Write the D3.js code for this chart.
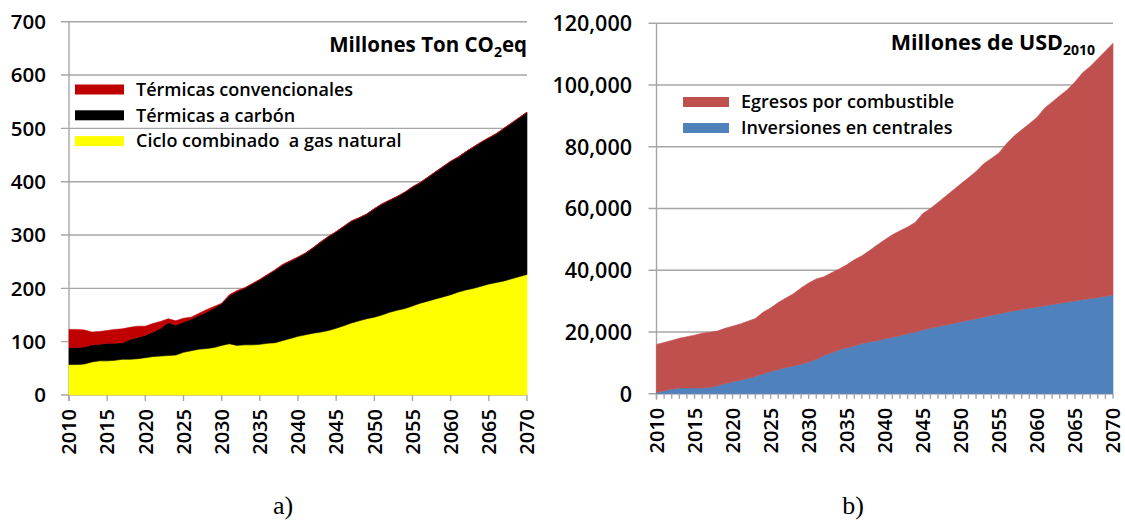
<!DOCTYPE html>
<html>
<head>
<meta charset="utf-8">
<script src="https://cdn.jsdelivr.net/npm/d3@7"></script>
<style>
  html, body { margin: 0; padding: 0; background: #fff; }
  svg { display: block; }
  text { font-family: "Open Sans", "Noto Sans", sans-serif; fill: #000; white-space: pre; }
</style>
</head>
<body>
<svg id="fig" width="1125" height="522"></svg>
<script>
// Years shown on both panels
const years = d3.range(2010, 2071);
const yearTicks = d3.range(2010, 2071, 5);

// Panel a) emissions by technology, million t CO2eq (stacked bottom to top)
const gasCC = [57,57,58,62,64,64,65,67,67,68,
  70,72,73,74,75,80,83,86,87,89,
  93,96,93,94,94,95,97,98,102,106,
  110,113,116,118,121,125,130,135,139,143,
  146,150,155,159,162,167,172,176,180,184,
  188,193,197,200,204,208,211,214,218,222,226];
const coal = [32,32,32,32,31,33,32,31,37,40,
  42,46,52,62,56,57,59,63,68,74,
  78,90,101,106,114,121,128,136,142,145,
  148,153,160,169,176,181,186,191,193,196,
  203,208,210,213,218,223,226,232,238,244,
  250,253,259,265,270,274,279,286,292,298,304];
const conventional = [34,34,32,24,24,24,26,26,23,21,
  17,16,13,7,8,7,4,4,5,3,
  1,2,2,1,1,1,1,1,1,1,
  1,0.5,0.5,0.5,0.5,0.5,0.5,0.5,0.5,0.5,
  0.5,0.5,0.5,0.5,0.5,0.5,0.5,0.5,0.5,0.5,
  0.5,0.5,0.5,0.5,0.5,0.5,0.5,0.5,0.5,0.5,0.5];
const emisTicks = [0,100,200,300,400,500,600,700];

// Panel b) costs, million USD2010 (stacked bottom to top)
const investment = [400,1000,1500,1900,1900,1900,1850,2100,2600,3300,
  3900,4400,5000,5600,6500,7200,7900,8500,9000,9600,
  10300,11200,12400,13300,14300,14900,15500,16300,16800,17200,
  17800,18300,18800,19500,20000,20700,21300,21800,22300,22800,
  23300,23800,24300,24900,25400,25900,26400,26900,27300,27700,
  28100,28500,28900,29300,29700,30100,30500,30900,31200,31600,32000];
const fuelSpend = [15600,15600,15800,16100,16600,17100,17750,17800,17700,17900,
  18000,18200,18500,18800,19900,20600,21700,22500,23400,24700,
  25600,26000,25500,25900,26100,26900,27900,28400,29600,31000,
  32100,33200,34000,34500,35500,37700,38700,40200,41700,43200,
  44700,46200,47700,49600,50800,52100,54600,56600,58200,59800,
  61400,64000,65600,67200,68800,70900,73500,75100,77300,79400,81500];
const costTicks = [0,20000,40000,60000,80000,100000,120000];

const svg = d3.select("#fig");
const gridColor = "#a6a6a6";
const labelWeight = 600;

function drawPanel(cfg) {
  const g = svg.append("g");
  const x = d3.scaleLinear().domain([2010, 2070]).range([cfg.x0, cfg.x1]);
  const y = d3.scaleLinear().domain([0, cfg.yMax]).range([cfg.yBottom, cfg.yTop]);

  // horizontal gridlines (the zero line doubles as the x axis)
  g.append("g").selectAll("line").data(cfg.yTicks).join("line")
    .attr("x1", cfg.x0 - 8).attr("x2", cfg.x1)
    .attr("y1", d => y(d)).attr("y2", d => y(d))
    .attr("stroke", gridColor).attr("stroke-width", 1.4);

  // vertical axis line
  g.append("line")
    .attr("x1", cfg.x0).attr("x2", cfg.x0)
    .attr("y1", y(cfg.yMax)).attr("y2", cfg.yBottom + 6)
    .attr("stroke", gridColor).attr("stroke-width", 1.4);

  // y tick labels
  g.append("g").selectAll("text").data(cfg.yTicks).join("text")
    .attr("x", cfg.labelX).attr("y", d => y(d))
    .attr("dy", "0.36em").attr("text-anchor", "end")
    .style("font-size", cfg.yFont).style("font-weight", labelWeight)
    .text(cfg.fmt);

  // stacked areas
  const table = years.map((yr, i) => {
    const row = { year: yr };
    cfg.keys.forEach(k => row[k.name] = k.values[i]);
    return row;
  });
  const stack = d3.stack().keys(cfg.keys.map(k => k.name));
  const layers = stack(table);
  const area = d3.area()
    .x(d => x(d.data.year))
    .y0(d => y(d[0]))
    .y1(d => y(d[1]));
  g.append("g").selectAll("path").data(layers).join("path")
    .attr("d", area)
    .attr("fill", (d, i) => cfg.keys[i].color)
    .attr("stroke", (d, i) => cfg.keys[i].color)
    .attr("stroke-width", 0.6);

  // x ticks below the axis
  g.append("g").selectAll("line").data(cfg.xTickVals).join("line")
    .attr("x1", d => x(d)).attr("x2", d => x(d))
    .attr("y1", cfg.yBottom).attr("y2", cfg.yBottom + cfg.xTickLen)
    .attr("stroke", gridColor).attr("stroke-width", 1.4);

  // rotated year labels
  g.append("g").selectAll("text").data(yearTicks).join("text")
    .attr("transform", d => `translate(${x(d)},${cfg.yBottom + 14}) rotate(-90)`)
    .attr("text-anchor", "end").attr("dy", "0.36em")
    .style("font-size", "20px").style("font-weight", labelWeight)
    .text(d => d);

  // unit title with subscript
  const t = g.append("text")
    .attr("x", cfg.titleX).attr("y", cfg.titleY)
    .attr("text-anchor", "end")
    .style("font-size", cfg.titleFont).style("font-weight", "bold");
  cfg.title.forEach(part => {
    const s = t.append("tspan").text(part.text);
    if (part.sub) s.style("font-size", "14px").attr("dy", "5");
    else if (part.after) s.attr("dy", "-5");
  });

  // legend
  const lg = g.append("g");
  cfg.legend.forEach((item, i) => {
    const ly = cfg.legendY + i * cfg.legendStep;
    lg.append("rect")
      .attr("x", cfg.legendX).attr("y", ly - 5)
      .attr("width", cfg.swatchW).attr("height", 10)
      .attr("fill", item.color);
    lg.append("text")
      .attr("x", cfg.legendX + cfg.swatchW + 12).attr("y", ly)
      .attr("dy", "0.35em")
      .style("font-size", "18px").style("font-weight", labelWeight)
      .text(item.label);
  });

  // panel caption
  svg.append("text")
    .attr("x", cfg.captionX).attr("y", 514)
    .attr("text-anchor", "middle")
    .style("font-family", "'Liberation Serif', 'DejaVu Serif', serif")
    .style("font-size", "26px")
    .text(cfg.caption);
}

drawPanel({
  x0: 69, x1: 527, yBottom: 395, yTop: 21.7, yMax: 700,
  yTicks: emisTicks, fmt: d3.format("d"), labelX: 46, yFont: "20.5px",
  keys: [
    { name: "gas", values: gasCC, color: "#ffff00" },
    { name: "coal", values: coal, color: "#000000" },
    { name: "conv", values: conventional, color: "#c00000" }
  ],
  xTickVals: yearTicks, xTickLen: 6,
  title: [{ text: "Millones Ton CO" }, { text: "2", sub: true }, { text: "eq", after: true }],
  titleX: 527, titleY: 52, titleFont: "20.5px",
  legend: [
    { label: "Térmicas convencionales", color: "#c00000" },
    { label: "Térmicas a carbón", color: "#000000" },
    { label: "Ciclo combinado  a gas natural", color: "#ffff00" }
  ],
  legendX: 75, legendY: 89.5, legendStep: 25.8, swatchW: 49,
  caption: "a)", captionX: 283
});

drawPanel({
  x0: 656.5, x1: 1113, yBottom: 393.8, yTop: 23.3, yMax: 120000,
  yTicks: costTicks, fmt: d3.format(","), labelX: 632, yFont: "21.5px",
  keys: [
    { name: "inv", values: investment, color: "#4f81bd" },
    { name: "fuel", values: fuelSpend, color: "#c0504d" }
  ],
  xTickVals: years, xTickLen: 5,
  title: [{ text: "Millones de USD" }, { text: "2010", sub: true }],
  titleX: 1095, titleY: 50, titleFont: "21.5px",
  legend: [
    { label: "Egresos por combustible", color: "#c0504d" },
    { label: "Inversiones en centrales", color: "#4f81bd" }
  ],
  legendX: 683, legendY: 102, legendStep: 26, swatchW: 46,
  caption: "b)", captionX: 853
});
</script>
</body>
</html>
